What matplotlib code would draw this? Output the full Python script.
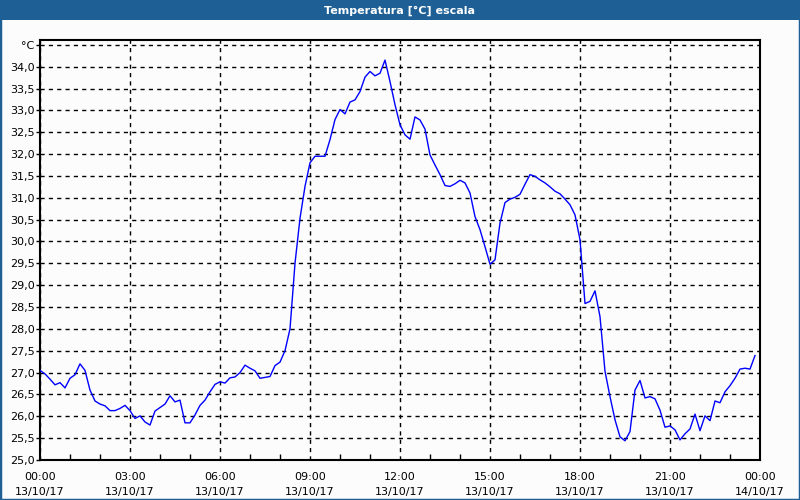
import matplotlib
matplotlib.use('Agg')
import matplotlib.pyplot as plt
import matplotlib.dates as mdates
import matplotlib.ticker as mticker
import numpy as np
import pandas as pd
from matplotlib.patches import Rectangle

### Data: one reading every 10 minutes on 13/10/17 ###

start = '2017-10-13 00:00'
end = '2017-10-14 00:00'
temps = [
    27.05, 26.97, 26.85, 26.72, 26.77, 26.65, 26.87, 26.95, 27.20, 27.05,
    26.60, 26.35, 26.28, 26.24, 26.13, 26.13, 26.18, 26.25, 26.13, 25.95,
    26.01, 25.87, 25.80, 26.12, 26.20, 26.28, 26.47, 26.33, 26.37, 25.85,
    25.85, 26.03, 26.25, 26.37, 26.56, 26.73, 26.79, 26.76, 26.88, 26.90,
    27.00, 27.17, 27.10, 27.04, 26.87, 26.89, 26.91, 27.16, 27.24, 27.50,
    28.00, 29.50, 30.53, 31.26, 31.80, 31.95, 31.95, 31.95, 32.33, 32.79,
    33.02, 32.92, 33.19, 33.24, 33.43, 33.76, 33.89, 33.79, 33.85, 34.15,
    33.66, 33.13, 32.67, 32.44, 32.34, 32.85, 32.78, 32.57, 31.98, 31.75,
    31.53, 31.28, 31.26, 31.32, 31.40, 31.34, 31.11, 30.57, 30.27, 29.88,
    29.48, 29.58, 30.42, 30.89, 30.97, 31.01, 31.08, 31.31, 31.53, 31.49,
    31.41, 31.34, 31.25, 31.15, 31.09, 30.97, 30.84, 30.61, 30.04, 28.58,
    28.63, 28.87, 28.28, 27.03, 26.45, 25.92, 25.53, 25.44, 25.65, 26.60,
    26.82, 26.42, 26.45, 26.40, 26.14, 25.75, 25.78, 25.69, 25.46, 25.60,
    25.71, 26.05, 25.67, 26.01, 25.90, 26.35, 26.31, 26.56, 26.70, 26.87,
    27.08, 27.10, 27.08, 27.39,
]
times = pd.date_range(start, periods=len(temps), freq='10min')

y_ticks = [25.0, 25.5, 26.0, 26.5, 27.0, 27.5, 28.0, 28.5, 29.0, 29.5,
           30.0, 30.5, 31.0, 31.5, 32.0, 32.5, 33.0, 33.5, 34.0, 34.5]
title = 'Temperatura [°C] escala'

bg = '#fbfcfb'
bar_blue = '#1e6096'

plt.rcParams['font.family'] = ['DejaVu Sans']

fig = plt.figure(figsize=(8, 5), dpi=100, facecolor=bg)
ax = fig.add_axes([0.05, 0.08, 0.90, 0.84], facecolor=bg)

ax.plot(times, temps, color='#0000ff', linewidth=1.0, zorder=3)

ax.set_xlim(pd.Timestamp(start), pd.Timestamp(end))
ax.set_ylim(25.0, 34.61)

ax.xaxis.set_major_locator(mdates.HourLocator(byhour=range(0, 24, 3)))
ax.xaxis.set_minor_locator(mdates.HourLocator())
ax.xaxis.set_major_formatter(mdates.DateFormatter('%H:%M\n%d/%m/%y'))

def fmt_temp(v, pos):
    if abs(v - y_ticks[-1]) < 1e-6:
        return '°C'
    return ('%.1f' % v).replace('.', ',')

ax.yaxis.set_major_locator(mticker.FixedLocator(y_ticks))
ax.yaxis.set_major_formatter(mticker.FuncFormatter(fmt_temp))

ax.grid(True, which='major', color='black', linestyle=(0, (3, 3)),
        linewidth=1.0)
ax.tick_params(axis='x', which='major', length=0, pad=9,
               labelsize=8, colors='black')
ax.tick_params(axis='x', which='minor', direction='in', length=4,
               width=1, color='black')
ax.tick_params(axis='y', which='major', direction='out', length=3,
               width=1, pad=1, labelsize=8)
for lbl in ax.get_xticklabels():
    lbl.set_linespacing(1.6)
for sp in ax.spines.values():
    sp.set_linewidth(1.5)
    sp.set_color('black')

# title bar and window border
fig.patches.append(Rectangle((0, 0.96), 1, 0.04, transform=fig.transFigure,
                             facecolor=bar_blue, edgecolor='none', zorder=0))
fig.patches.append(Rectangle((0, 0), 1, 1, transform=fig.transFigure,
                             facecolor='none', edgecolor=bar_blue,
                             linewidth=2.5, zorder=5))
fig.text(0.5, 0.979, title, color='white', fontsize=8, fontweight='bold',
         ha='center', va='center')

fig.savefig('out.png', dpi=100, facecolor=bg)
